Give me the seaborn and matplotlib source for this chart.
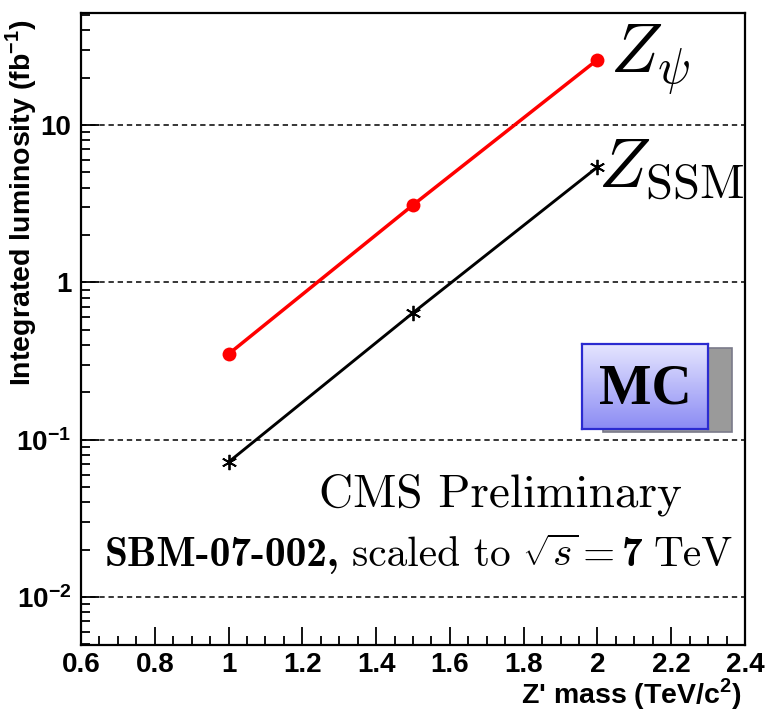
import numpy as np
import pandas as pd
import matplotlib
matplotlib.use("Agg")
import matplotlib.pyplot as plt
import matplotlib.ticker as mticker
from matplotlib.patches import Rectangle
import seaborn as sns

# Z' mass points (TeV/c^2) and required integrated luminosity (fb^-1)
mass = [1.0, 1.5, 2.0]
lumi_psi = [0.35, 3.1, 26.0]
lumi_ssm = [0.072, 0.64, 5.4]

xtick_values = [0.6, 0.8, 1.0, 1.2, 1.4, 1.6, 1.8, 2.0, 2.2, 2.4]
xtick_labels = ["0.6", "0.8", "1", "1.2", "1.4", "1.6", "1.8", "2", "2.2", "2.4"]
ytick_values = [0.01, 0.1, 1, 10]
ytick_labels = [r"$\mathbf{10^{-2}}$", r"$\mathbf{10^{-1}}$", "1", "10"]

sns.set_theme(style="white")
plt.rcParams["font.family"] = ["Liberation Sans", "DejaVu Sans"]
plt.rcParams["mathtext.fontset"] = "custom"
plt.rcParams["mathtext.bf"] = "Liberation Sans:bold"
plt.rcParams["mathtext.rm"] = "Liberation Sans:bold"
plt.rcParams["axes.unicode_minus"] = True

df = pd.DataFrame({
    "mass": mass * 2,
    "lumi": lumi_psi + lumi_ssm,
    "model": ["psi"] * 3 + ["ssm"] * 3,
})

fig = plt.figure(figsize=(7.65, 7.14), dpi=100)
ax = fig.add_axes([81 / 765, 69 / 714, 664 / 765, 632 / 714])

sns.lineplot(data=df[df.model == "psi"], x="mass", y="lumi", ax=ax,
             color="#ff0000", linewidth=2.5, marker="o", markersize=10,
             markeredgewidth=0, zorder=5)
sns.lineplot(data=df[df.model == "ssm"], x="mass", y="lumi", ax=ax,
             color="black", linewidth=2.1, marker=(6, 2, 0), markersize=11,
             markeredgewidth=1.3, markeredgecolor="black", zorder=5)

ax.set_yscale("log")
ax.set_xlim(0.6, 2.4)
ax.set_ylim(0.00495, 51.5)

# ticks: inward, left and bottom only
ax.xaxis.set_major_locator(mticker.FixedLocator(xtick_values))
ax.xaxis.set_major_formatter(mticker.FixedFormatter(xtick_labels))
ax.xaxis.set_minor_locator(mticker.MultipleLocator(0.05))
ax.yaxis.set_major_locator(mticker.FixedLocator(ytick_values))
ax.yaxis.set_major_formatter(mticker.FixedFormatter(ytick_labels))
ax.yaxis.set_minor_locator(mticker.LogLocator(base=10, subs=np.arange(2, 10)))
ax.yaxis.set_minor_formatter(mticker.NullFormatter())
ax.tick_params(which="both", direction="in", top=False, right=False,
               left=True, bottom=True, color="black", width=1.3)
ax.tick_params(which="major", length=13)
ax.tick_params(which="minor", length=6.5)
ax.tick_params(axis="x", which="major", pad=5, labelsize=20)
ax.tick_params(axis="y", which="major", pad=7, labelsize=20)
for lab in ax.get_xticklabels() + ax.get_yticklabels():
    lab.set_fontweight("bold")
    lab.set_color("black")

for s in ax.spines.values():
    s.set_color("black")
    s.set_linewidth(1.6)
    s.set_visible(True)

ax.yaxis.grid(True, which="major", color="black", linestyle=(0, (3.5, 2.5)),
              linewidth=1.1)
ax.xaxis.grid(False)

ax.set_xlabel(r"Z' mass (TeV/c$^{\mathbf{2}}$)", loc="right", fontsize=20.5,
              fontweight="bold", color="black")
ax.set_ylabel(r"Integrated luminosity (fb$^{\mathbf{-1}}$)", loc="top",
              fontsize=20.5, fontweight="bold", color="black")
ax.xaxis.set_label_coords((742 - 81) / 664, -(676 - 645) / 632)
ax.yaxis.set_label_coords((39 - 81) / 664, (645 - 20) / 632)

# curve labels
ax.text(2.034, 21.4, r"$Z_{\psi}$", fontsize=50, math_fontfamily="cm",
        ha="left", va="baseline", color="black")
ax.text(2.001, 4.04, r"$Z_{\mathrm{SSM}}$", fontsize=50, math_fontfamily="cm",
        ha="left", va="baseline", color="black")

# CMS Preliminary
ax.text((500 - 81) / 664, (645 - 506) / 632, "CMS Preliminary",
        transform=ax.transAxes, family="cmr10", fontsize=34, ha="center",
        va="baseline", color="black")

# analysis note line, built from pieces of mixed weight
pieces = [
    ("SBM-07-002,", dict(family="cmb10"), 0),
    ("scaled to", dict(family="cmr10"), 9),
    (r"$\sqrt{s}$", dict(math_fontfamily="cm"), 8),
    ("=", dict(family="cmr10"), 3),
    ("7", dict(family="cmb10"), 5),
    ("TeV", dict(family="cmr10"), 8),
]
y_note = (645 - 566) / 632
prev = None
for txt, props, gap in pieces:
    if prev is None:
        prev = ax.text((105 - 81) / 664, y_note, txt, transform=ax.transAxes,
                       fontsize=29.8, ha="left", va="baseline", color="black",
                       **props)
    else:
        prev = ax.annotate(txt, xy=(1, y_note), xycoords=(prev, ax.transAxes),
                           xytext=(gap, 0), textcoords="offset points",
                           fontsize=29.8, ha="left", va="baseline",
                           color="black", **props)

# MC badge: shadow and gradient box
shadow = Rectangle((603 / 765, (714 - 432) / 714), 129 / 765, 84 / 714,
                   transform=fig.transFigure, facecolor="#9a9a9a",
                   edgecolor="#7a7a8a", linewidth=1.2, zorder=3)
fig.add_artist(shadow)
badge = fig.add_axes([582 / 765, (714 - 429) / 714, 126 / 765, 85 / 714],
                     zorder=4)
grad = np.linspace(0, 1, 64).reshape(-1, 1)
cmap = matplotlib.colors.LinearSegmentedColormap.from_list(
    "badge", ["#e6e6ff", "#8c8cf4"])
badge.imshow(grad, aspect="auto", cmap=cmap, extent=(0, 1, 0, 1),
             origin="upper")
badge.set_xticks([])
badge.set_yticks([])
for s in badge.spines.values():
    s.set_color("#2b2bd0")
    s.set_linewidth(1.6)
badge.text(0.5, 0.47, "MC", transform=badge.transAxes, ha="center",
           va="center", fontsize=40, fontweight="bold",
           family="Liberation Serif", color="black")

fig.savefig("out.png", dpi=100, facecolor="white")
